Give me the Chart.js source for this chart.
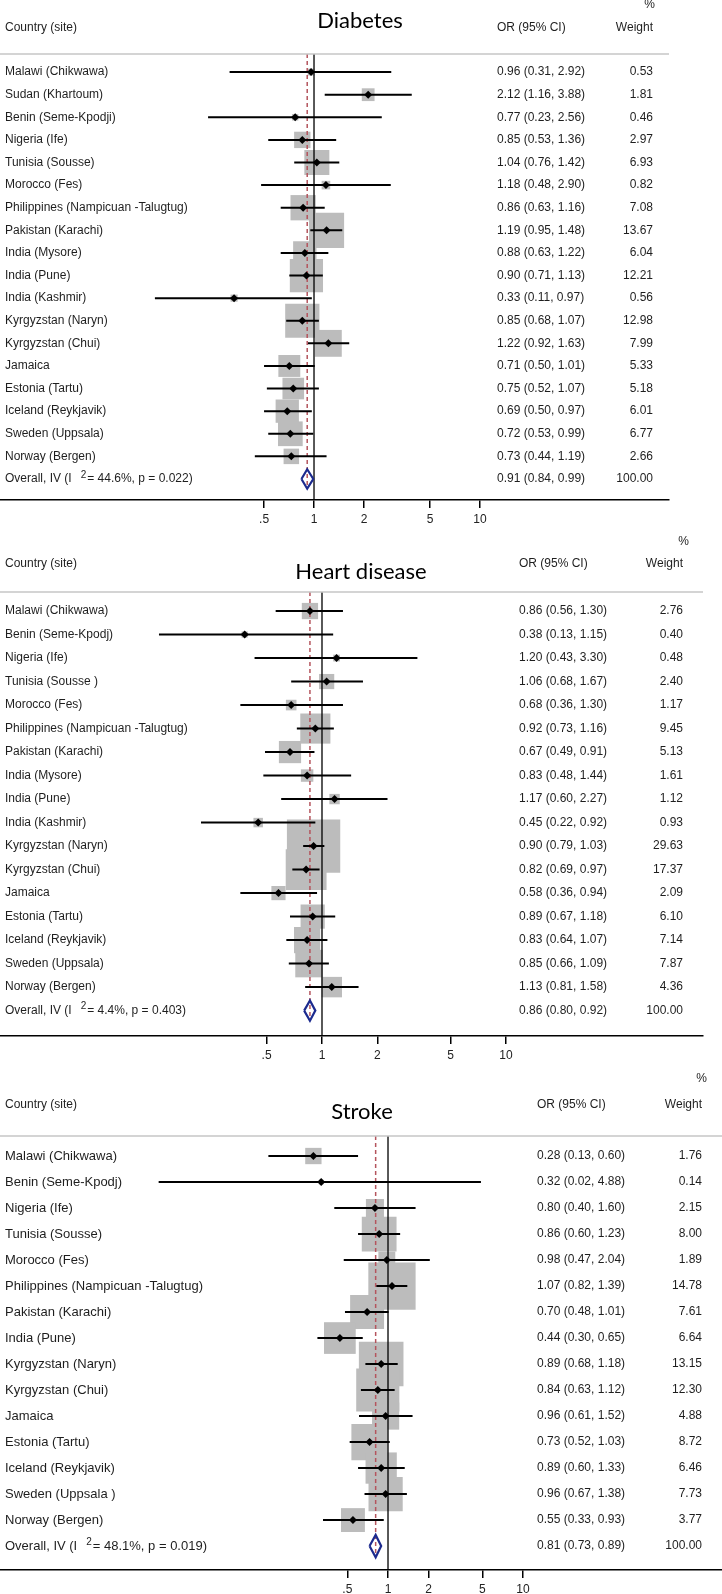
<!DOCTYPE html>
<html>
<head>
<meta charset="utf-8">
<script src="https://cdn.jsdelivr.net/npm/chart.js@4.4.1/dist/chart.umd.min.js"></script>
<style>
  html, body { margin: 0; padding: 0; background: #fff; }
  #wrap { position: relative; width: 722px; height: 1594px; overflow: hidden; }
  .panel { position: absolute; left: 0; width: 722px; }
</style>
</head>
<body>
<div id="wrap">
  <div class="panel" style="top:0;height:530px"><canvas id="diabetes"></canvas></div>
  <div class="panel" style="top:532px;height:534px"><canvas id="heart"></canvas></div>
  <div class="panel" style="top:1068px;height:526px"><canvas id="stroke"></canvas></div>
</div>
<script>
// x axis ticks, shared by all three panels
const oddsTicks = [0.5, 1, 2, 5, 10];

// Diabetes
const diabetesSites = [
  "Malawi (Chikwawa)", "Sudan (Khartoum)", "Benin (Seme-Kpodji)", "Nigeria (Ife)",
  "Tunisia (Sousse)", "Morocco (Fes)", "Philippines (Nampicuan -Talugtug)", "Pakistan (Karachi)",
  "India (Mysore)", "India (Pune)", "India (Kashmir)", "Kyrgyzstan (Naryn)", "Kyrgyzstan (Chui)",
  "Jamaica", "Estonia (Tartu)", "Iceland (Reykjavik)", "Sweden (Uppsala)", "Norway (Bergen)"
];
const diabetesOR = [0.96, 2.12, 0.77, 0.85, 1.04, 1.18, 0.86, 1.19, 0.88, 0.90, 0.33, 0.85, 1.22, 0.71, 0.75, 0.69, 0.72, 0.73];
const diabetesLo = [0.31, 1.16, 0.23, 0.53, 0.76, 0.48, 0.63, 0.95, 0.63, 0.71, 0.11, 0.68, 0.92, 0.50, 0.52, 0.50, 0.53, 0.44];
const diabetesHi = [2.92, 3.88, 2.56, 1.36, 1.42, 2.90, 1.16, 1.48, 1.22, 1.13, 0.97, 1.07, 1.63, 1.01, 1.07, 0.97, 0.99, 1.19];
const diabetesWeight = [0.53, 1.81, 0.46, 2.97, 6.93, 0.82, 7.08, 13.67, 6.04, 12.21, 0.56, 12.98, 7.99, 5.33, 5.18, 6.01, 6.77, 2.66];
const diabetesPooled = [0.91, 0.84, 0.99];
const diabetesHet = ["44.6%", "0.022"];

// Heart disease
const heartSites = [
  "Malawi (Chikwawa)", "Benin (Seme-Kpodj)", "Nigeria (Ife)", "Tunisia (Sousse )", "Morocco (Fes)",
  "Philippines (Nampicuan -Talugtug)", "Pakistan (Karachi)", "India (Mysore)", "India (Pune)",
  "India (Kashmir)", "Kyrgyzstan (Naryn)", "Kyrgyzstan (Chui)", "Jamaica", "Estonia (Tartu)",
  "Iceland (Reykjavik)", "Sweden (Uppsala)", "Norway (Bergen)"
];
const heartOR = [0.86, 0.38, 1.20, 1.06, 0.68, 0.92, 0.67, 0.83, 1.17, 0.45, 0.90, 0.82, 0.58, 0.89, 0.83, 0.85, 1.13];
const heartLo = [0.56, 0.13, 0.43, 0.68, 0.36, 0.73, 0.49, 0.48, 0.60, 0.22, 0.79, 0.69, 0.36, 0.67, 0.64, 0.66, 0.81];
const heartHi = [1.30, 1.15, 3.30, 1.67, 1.30, 1.16, 0.91, 1.44, 2.27, 0.92, 1.03, 0.97, 0.94, 1.18, 1.07, 1.09, 1.58];
const heartWeight = [2.76, 0.40, 0.48, 2.40, 1.17, 9.45, 5.13, 1.61, 1.12, 0.93, 29.63, 17.37, 2.09, 6.10, 7.14, 7.87, 4.36];
const heartPooled = [0.86, 0.80, 0.92];
const heartHet = ["4.4%", "0.403"];

// Stroke
const strokeSites = [
  "Malawi (Chikwawa)", "Benin (Seme-Kpodj)", "Nigeria (Ife)", "Tunisia (Sousse)", "Morocco (Fes)",
  "Philippines (Nampicuan -Talugtug)", "Pakistan (Karachi)", "India (Pune)", "Kyrgyzstan (Naryn)",
  "Kyrgyzstan (Chui)", "Jamaica", "Estonia (Tartu)", "Iceland (Reykjavik)", "Sweden (Uppsala )",
  "Norway (Bergen)"
];
const strokeOR = [0.28, 0.32, 0.80, 0.86, 0.98, 1.07, 0.70, 0.44, 0.89, 0.84, 0.96, 0.73, 0.89, 0.96, 0.55];
const strokeLo = [0.13, 0.02, 0.40, 0.60, 0.47, 0.82, 0.48, 0.30, 0.68, 0.63, 0.61, 0.52, 0.60, 0.67, 0.33];
const strokeHi = [0.60, 4.88, 1.60, 1.23, 2.04, 1.39, 1.01, 0.65, 1.18, 1.12, 1.52, 1.03, 1.33, 1.38, 0.93];
const strokeWeight = [1.76, 0.14, 2.15, 8.00, 1.89, 14.78, 7.61, 6.64, 13.15, 12.30, 4.88, 8.72, 6.46, 7.73, 3.77];
const strokePooled = [0.81, 0.73, 0.89];
const strokeHet = ["48.1%", "0.019"];

const TEXT = '"Liberation Sans", Arial, sans-serif';
const DIAMOND_HALF = 0.43; // half height of the pooled diamond, in rows

// text columns, header rule and title
const forestText = {
  id: "forestText",
  afterDatasetsDraw(chart, args, o) {
    const ctx = chart.ctx;
    const y = chart.scales.y;
    const area = chart.chartArea;
    ctx.save();

    ctx.strokeStyle = "#c6c6c6";
    ctx.lineWidth = 1.5;
    ctx.beginPath();
    ctx.moveTo(0, area.top);
    ctx.lineTo(area.right, area.top);
    ctx.stroke();

    ctx.fillStyle = "#1e1e1e";
    ctx.textBaseline = "middle";
    ctx.font = `12px ${TEXT}`;
    ctx.textAlign = "left";
    ctx.fillText("Country (site)", 5, o.headY);
    ctx.fillText("OR (95% CI)", o.orX, o.headY);
    ctx.textAlign = "right";
    ctx.fillText("Weight", o.wtRight, o.headY);
    ctx.fillText("%", o.pctRight, o.pctY);

    ctx.fillStyle = "#000";
    ctx.textAlign = "center";
    ctx.font = `22px Lato, "Open Sans", sans-serif`;
    ctx.fillText(o.title, o.titleX, o.titleY);

    ctx.fillStyle = "#1e1e1e";
    const fmt = (v, lo, hi) => `${v.toFixed(2)} (${lo.toFixed(2)}, ${hi.toFixed(2)})`;
    o.sites.forEach((name, i) => {
      const py = y.getPixelForValue(i);
      ctx.font = `${o.labelSize}px ${TEXT}`;
      ctx.textAlign = "left";
      ctx.fillText(name, 5, py);
      ctx.font = `12px ${TEXT}`;
      ctx.fillText(fmt(o.or[i], o.lo[i], o.hi[i]), o.orX, py);
      ctx.textAlign = "right";
      ctx.fillText(o.weight[i].toFixed(2), o.wtRight, py);
    });

    // pooled row, with the raised 2 of I-squared
    const n = o.sites.length;
    const py = y.getPixelForValue(n);
    ctx.textAlign = "left";
    ctx.font = `${o.labelSize}px ${TEXT}`;
    const head = "Overall, IV (I";
    ctx.fillText(head, 5, py);
    let x = 5 + ctx.measureText(head).width + 9;
    ctx.font = `10px ${TEXT}`;
    ctx.fillText("2", x, py - 4);
    x += ctx.measureText("2").width + 1;
    ctx.font = `${o.labelSize}px ${TEXT}`;
    ctx.fillText(`= ${o.het[0]}, p = ${o.het[1]})`, x, py);
    ctx.font = `12px ${TEXT}`;
    ctx.fillText(fmt(o.pooled[0], o.pooled[1], o.pooled[2]), o.orX, py);
    ctx.textAlign = "right";
    ctx.fillText((100).toFixed(2), o.wtRight, py);

    ctx.restore();
  }
};

function makePanel(id, d, L) {
  const n = d.sites.length;
  const rows = d.sites.map((s, i) => i);
  const ciData = [];
  rows.forEach(i => {
    ciData.push({ x: d.lo[i], y: i }, { x: d.hi[i], y: i }, { x: null, y: null });
  });
  const [est, lo, hi] = d.pooled;

  return new Chart(document.getElementById(id), {
    type: "scatter",
    data: {
      datasets: [
        {
          // pooled diamond
          data: [
            { x: lo, y: n }, { x: est, y: n - DIAMOND_HALF }, { x: hi, y: n },
            { x: est, y: n + DIAMOND_HALF }, { x: lo, y: n }
          ],
          showLine: true, borderColor: "#1c2a8e", borderWidth: 2.2, pointRadius: 0, fill: false, order: 0
        },
        {
          // point estimates
          data: rows.map(i => ({ x: d.or[i], y: i })),
          pointStyle: "rectRot", pointRadius: 4, backgroundColor: "#000", borderWidth: 0, order: 1
        },
        {
          // confidence intervals
          data: ciData,
          showLine: true, spanGaps: false, borderColor: "#000", borderWidth: 2, pointRadius: 0, order: 2
        },
        {
          // no effect line
          data: [{ x: 1, y: L.yMin }, { x: 1, y: L.yMax }],
          showLine: true, borderColor: "#000", borderWidth: 1.3, pointRadius: 0, order: 3
        },
        {
          // pooled estimate line
          data: [{ x: est, y: L.yMin }, { x: est, y: n + DIAMOND_HALF }],
          showLine: true, borderColor: "#b4545d", borderWidth: 1.5, borderDash: [4, 3], pointRadius: 0, order: 4
        },
        {
          // study weights
          data: rows.map(i => ({ x: d.or[i], y: i })),
          pointStyle: "rect",
          pointRadius: d.weight.map(w => L.boxK * Math.sqrt(w) / Math.SQRT2),
          backgroundColor: "#bcbcbc", borderWidth: 0, order: 5
        }
      ]
    },
    options: {
      responsive: true,
      maintainAspectRatio: false,
      animation: false,
      events: [],
      layout: { autoPadding: false, padding: { top: L.padTop, right: L.padRight, left: 0, bottom: 0 } },
      plugins: {
        legend: { display: false },
        tooltip: { enabled: false },
        forestText: Object.assign({}, d, L)
      },
      scales: {
        x: {
          type: "logarithmic",
          min: L.xMin,
          max: L.xMax,
          bounds: "data",
          position: "bottom",
          afterBuildTicks: s => { s.ticks = oddsTicks.map(v => ({ value: v })); },
          afterFit: s => { s.height = L.axisH; },
          border: { display: true, color: "#000", width: 1.5 },
          grid: { drawOnChartArea: false, drawTicks: true, tickLength: 8, color: "#000", lineWidth: 1.5 },
          ticks: {
            autoSkip: false, maxRotation: 0, padding: 4, color: "#222",
            font: { family: TEXT, size: 12 },
            callback: v => (v === 0.5 ? ".5" : String(v))
          }
        },
        y: { type: "linear", display: false, reverse: true, min: L.yMin, max: L.yMax }
      }
    },
    plugins: [forestText]
  });
}

makePanel("diabetes",
  { title: "Diabetes", sites: diabetesSites, or: diabetesOR, lo: diabetesLo, hi: diabetesHi,
    weight: diabetesWeight, pooled: diabetesPooled, het: diabetesHet },
  { xMin: 0.01283, xMax: 137.6, yMin: -0.8, yMax: 18.93, padTop: 54, padRight: 53, axisH: 30,
    boxK: 9.5, labelSize: 12, headY: 28, pctY: 5, titleX: 360, titleY: 21,
    orX: 497, wtRight: 653, pctRight: 655 });

makePanel("heart",
  { title: "Heart disease", sites: heartSites, or: heartOR, lo: heartLo, hi: heartHi,
    weight: heartWeight, pooled: heartPooled, het: heartHet },
  { xMin: 0.01778, xMax: 117.7, yMin: -0.81, yMax: 18.08, padTop: 60, padRight: 19, axisH: 30,
    boxK: 9.8, labelSize: 12, headY: 32, pctY: 10, titleX: 361, titleY: 40,
    orX: 519, wtRight: 683, pctRight: 689 });

makePanel("stroke",
  { title: "Stroke", sites: strokeSites, or: strokeOR, lo: strokeLo, hi: strokeHi,
    weight: strokeWeight, pooled: strokePooled, het: strokeHet },
  { xMin: 0.001336, xMax: 297.9, yMin: -0.77, yMax: 15.92, padTop: 68, padRight: 0, axisH: 24,
    boxK: 12.3, labelSize: 13, headY: 37, pctY: 11, titleX: 362, titleY: 44,
    orX: 537, wtRight: 702, pctRight: 707 });
</script>
</body>
</html>
